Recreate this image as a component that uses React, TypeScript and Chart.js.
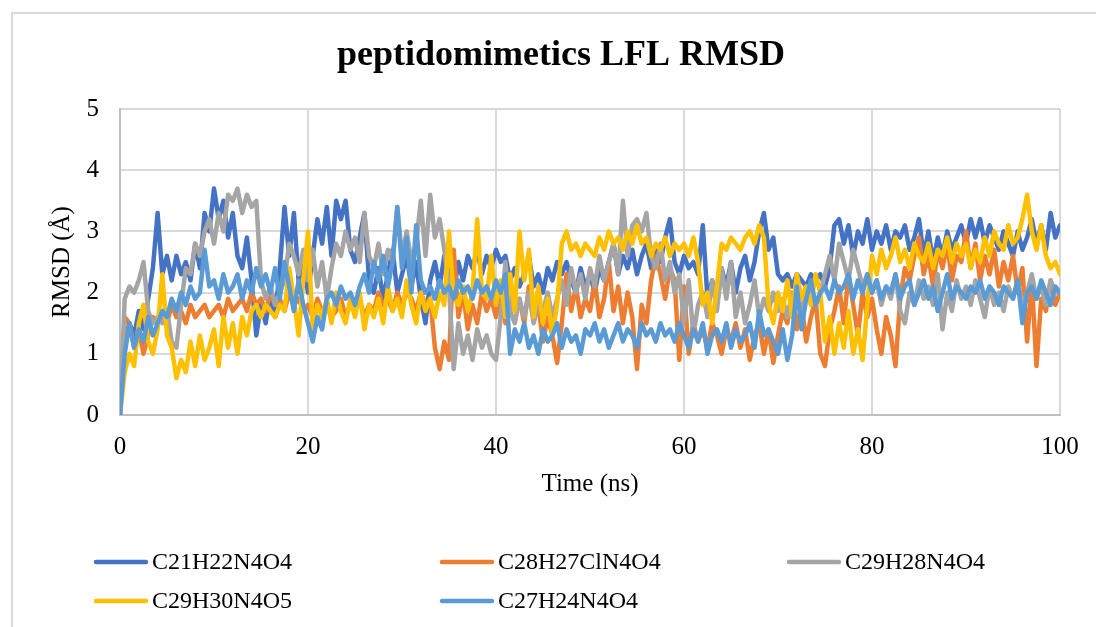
import React, { useEffect, useRef } from "react";
import { Chart, registerables } from "chart.js";

Chart.register(...registerables);

const TITLE = "peptidomimetics LFL RMSD";
const X_TITLE = "Time (ns)";
const Y_TITLE = "RMSD (Å)";
const TIME_STEP_NS = 0.5;
const X_MIN = 0;
const X_MAX = 100;
const X_STEP = 20;
const Y_MIN = 0;
const Y_MAX = 5;
const Y_STEP = 1;

const SERIES_NAMES = ["C21H22N4O4", "C28H27ClN4O4", "C29H28N4O4", "C29H30N4O5", "C27H24N4O4"];
const SERIES_COLORS = ["#4472C4", "#ED7D31", "#A5A5A5", "#FFC000", "#5B9BD5"];

const C21H22N4O4 = [
  0.0, 1.2, 1.5, 1.3, 1.7, 1.4, 1.9, 2.4, 3.3, 2.3,
  2.6, 2.2, 2.6, 2.3, 2.5, 2.2, 2.8, 2.4, 3.3, 3.0,
  3.7, 3.2, 3.5, 2.9, 3.3, 2.6, 2.4, 2.9, 2.2, 1.3,
  1.8, 1.5, 2.0, 1.6, 2.4, 3.4, 2.6, 3.3, 2.2, 2.5,
  2.0, 2.6, 3.2, 2.8, 3.4, 2.6, 3.5, 3.2, 3.5, 2.7,
  2.5, 2.9, 3.3, 2.2, 2.0, 2.4, 1.9, 2.3, 2.7, 2.0,
  2.3, 2.6, 2.1, 2.5, 1.9, 1.5, 2.2, 2.5, 2.1, 2.6,
  2.3, 2.0, 2.5, 2.2, 2.6, 2.4, 2.7, 2.3, 2.6, 2.4,
  2.7, 2.5, 2.6, 2.2, 2.4, 2.1, 2.3, 2.6, 2.1, 2.3,
  2.0, 2.4, 2.2, 2.5, 2.3, 2.5, 2.2, 2.0, 2.4, 2.1,
  2.3, 2.0, 2.4, 2.2, 2.5, 2.8, 2.3, 2.6, 2.4, 2.7,
  2.3, 2.6, 2.8, 2.4, 2.7, 2.5, 2.9, 3.2, 2.5, 2.3,
  2.6, 2.4, 2.5, 2.3, 3.1, 1.9, 2.2, 1.8, 2.4, 2.1,
  2.5, 2.0, 2.4, 2.6, 2.2, 2.5, 3.0, 3.3, 2.7, 2.9,
  2.3, 2.2, 2.3, 2.1, 2.3, 2.2, 2.1, 2.3, 2.2, 2.3,
  2.1, 2.4, 3.1, 3.2, 2.8, 3.1, 2.6, 3.0, 2.8, 3.2,
  2.7, 3.0, 2.8, 3.1, 2.7, 3.0, 2.9, 3.1, 2.7, 2.9,
  3.2, 2.6, 3.0, 2.5, 2.9, 2.6, 3.0, 2.7, 2.9, 3.1,
  2.8, 3.2, 2.9, 3.2, 2.8, 3.1, 2.9, 2.7, 3.0, 2.8,
  2.6, 3.0, 2.7, 2.9, 3.2, 2.8, 3.1, 2.7, 3.3, 2.9,
  3.1,
];

const C28H27ClN4O4 = [
  0.0, 1.6, 1.5, 1.1, 1.4, 1.0, 1.3, 1.6, 1.5, 1.7,
  1.5, 1.8, 1.6, 1.7, 1.5, 1.8, 1.6, 1.7, 1.8, 1.6,
  1.7, 1.8, 1.6, 1.9, 1.7, 1.8, 1.9, 1.7, 2.0, 1.8,
  1.9, 1.7, 2.0, 1.8, 1.9, 1.7, 2.0, 1.8, 1.9, 1.7,
  1.8, 1.6, 1.9, 1.7, 1.8, 1.6, 1.7, 1.9, 1.6, 1.8,
  1.7, 1.9, 1.6, 1.8, 1.7, 2.0, 1.8, 1.9, 1.7, 2.0,
  1.8, 2.0, 1.9, 1.7, 2.0, 1.8, 1.9, 1.1, 0.75, 1.2,
  0.9, 2.7, 1.6, 2.0, 1.4, 1.8, 1.5, 2.0, 1.7, 1.9,
  1.6, 2.0, 1.5, 2.2, 1.7, 1.9, 1.5, 2.1, 1.6, 1.8,
  1.2, 1.6, 1.3, 0.85, 1.5, 2.3, 1.7, 2.1, 1.6, 1.9,
  1.7, 2.2, 1.6, 1.9, 2.5, 1.7, 2.1, 1.5, 2.0, 1.6,
  0.75, 1.8, 1.5, 2.2, 2.6, 2.3, 1.9, 2.4, 2.2, 0.9,
  2.1, 1.0, 1.5, 1.2, 1.4, 1.1, 1.5, 1.3, 1.0, 1.4,
  1.2, 1.5, 1.1, 1.4, 0.9, 1.3, 1.5, 1.0, 1.4, 0.85,
  1.3, 1.7, 1.5, 2.0, 1.4, 1.8, 1.2, 1.6, 1.9, 1.0,
  0.8, 1.4, 1.7, 2.1, 1.5, 2.3, 1.8, 1.3, 2.0, 1.6,
  1.9, 1.4, 1.0, 1.6, 1.3, 0.8, 1.9, 2.4, 2.2, 2.6,
  2.9, 2.3, 2.6, 2.1, 2.7, 2.4, 2.8, 2.2, 2.6, 2.5,
  3.0, 2.4, 2.8, 2.2, 2.6, 2.3, 2.7, 2.1, 2.5, 2.2,
  2.6, 2.0, 2.4, 1.2, 2.2, 0.8, 1.9, 1.7, 2.2, 1.8,
  2.0,
];

const C29H28N4O4 = [
  0.0, 1.9, 2.1, 2.0, 2.2, 2.5, 1.7, 1.5, 1.6, 1.5,
  1.7, 1.2, 1.1, 1.8, 2.4, 2.3, 2.8, 2.6, 3.0, 3.2,
  2.8, 3.3, 3.0, 3.6, 3.5, 3.7, 3.3, 3.6, 3.4, 3.5,
  2.2, 1.9, 2.1, 1.8, 2.0, 2.2, 2.8, 2.6, 2.3, 2.7,
  2.2, 2.7, 2.1, 2.5, 1.9, 2.4, 2.8, 2.6, 3.0, 2.7,
  2.9, 2.5, 3.3, 2.6, 2.4, 2.8, 2.3, 2.7, 2.5, 3.4,
  2.6, 3.0, 2.5, 2.8, 3.5, 2.6, 3.6, 2.9, 3.2, 2.7,
  2.1, 0.75, 1.5, 1.0, 1.3, 0.9, 1.4, 1.1, 1.3, 1.0,
  0.9, 1.6, 2.5, 1.7, 1.5, 1.9, 1.6, 2.0, 1.5, 1.8,
  1.7, 2.0, 1.6, 1.9, 2.2, 1.8, 2.4, 2.0, 2.3, 1.9,
  2.4, 2.1, 2.6, 2.2, 2.5, 2.8, 2.3, 3.5, 2.6, 3.1,
  3.2, 3.0, 3.3, 2.6, 2.4, 2.8, 2.2, 2.5, 2.0, 2.3,
  1.5, 2.2, 1.3, 1.8, 2.0, 1.6, 2.2, 1.7, 2.4, 1.9,
  2.5, 1.6, 2.0, 1.5, 1.8, 2.2, 1.6, 1.9, 1.7, 2.0,
  1.7, 1.9, 1.6, 2.0, 1.8, 1.7, 2.1, 1.9, 1.8, 2.0,
  2.3, 2.6, 2.2, 2.8, 2.5, 2.2, 2.7, 2.4, 2.1, 2.3,
  2.0, 2.2, 1.8, 2.1, 1.9, 2.3, 1.7, 1.5, 2.0, 1.8,
  2.2, 1.9, 2.1, 1.8, 2.3, 1.4, 2.0, 1.7, 2.2, 1.9,
  2.1, 1.8, 2.2, 1.9, 1.6, 2.1, 1.8, 2.0, 1.7, 2.1,
  1.9, 2.2, 1.8, 2.0, 2.3, 1.9, 2.1, 1.8, 2.2, 2.0,
  2.0,
];

const C29H30N4O5 = [
  0.0, 0.7, 1.0, 0.8, 1.5, 1.8, 1.2, 1.0, 1.4, 2.3,
  1.3, 1.1, 0.6, 0.9, 0.7, 1.2, 0.8, 1.3, 0.9, 1.1,
  1.4, 0.8, 1.6, 1.1, 1.5, 1.0, 1.6, 1.3, 1.7, 1.8,
  1.6, 1.8, 1.7, 1.6, 1.8, 1.7, 2.4, 1.9, 1.3, 2.2,
  3.0, 1.4, 1.8, 1.6, 1.9, 1.5, 2.0, 1.7, 1.5, 1.9,
  1.6, 2.0, 1.4, 1.8, 1.6, 1.9, 1.5, 2.1, 1.7, 1.9,
  1.6, 2.2, 1.8, 1.5, 2.0, 1.7, 1.9, 1.6, 2.0, 1.8,
  3.0, 1.9, 1.8, 2.1, 1.7, 2.0, 3.2, 2.0, 1.9, 2.6,
  1.8, 2.2, 1.6, 2.3, 1.7, 3.0, 2.2, 2.7, 1.6, 2.1,
  1.5, 1.9, 1.3, 1.8, 2.8, 3.0, 2.7, 2.8, 2.6, 2.8,
  2.7, 2.6, 2.9, 2.7, 3.0, 2.8, 2.9, 2.7, 3.0, 2.8,
  3.1, 2.8, 2.9, 2.6, 2.8, 2.7, 2.9, 2.6, 2.8, 2.7,
  2.8, 2.6, 2.9, 2.5, 1.8, 2.0, 1.5, 2.1, 2.8, 2.7,
  2.9, 2.8, 2.7, 2.9, 3.0, 2.8, 3.1, 2.9, 1.8, 1.5,
  2.0, 1.7, 2.2, 1.6, 2.3, 1.9, 2.1, 1.8, 2.3, 2.0,
  1.2, 1.6, 1.0, 1.5, 1.1, 1.7, 1.0, 1.4, 0.9, 1.8,
  2.6, 2.3, 2.7, 2.4, 2.6, 2.9, 2.5, 2.7, 2.4, 2.8,
  2.6, 2.5, 2.8, 2.4, 2.7, 2.6, 2.9, 2.5, 2.8, 2.6,
  2.8, 2.4, 2.7, 2.5, 2.9, 2.6, 3.0, 2.8, 2.7, 3.1,
  2.8, 2.9, 3.2, 3.6, 3.0, 2.7, 3.1, 2.6, 2.4, 2.5,
  2.3,
];

const C27H24N4O4 = [
  0.0, 1.0, 1.5, 1.1, 1.4, 1.2, 1.6, 1.3, 1.5, 1.7,
  1.6, 1.9, 1.7, 2.0, 1.8, 2.1, 1.9, 2.0, 2.7, 2.1,
  2.2, 1.9, 2.3, 2.0, 2.1, 2.3, 1.9, 2.2, 2.0, 2.4,
  2.1, 2.3, 2.0, 2.4, 1.9, 2.5, 2.1, 1.7, 2.2, 1.8,
  1.5, 1.2, 1.6, 1.4, 1.9, 2.0, 1.8, 2.1, 1.9, 2.0,
  1.8, 2.1, 2.3, 2.0, 2.5, 2.2, 2.6, 2.1, 2.5, 3.4,
  2.4, 2.9, 2.0, 3.1, 2.2, 2.0, 2.1, 1.9, 2.2, 2.0,
  2.1, 1.9, 2.2, 2.0, 2.1, 1.9, 2.2, 2.0, 2.1, 1.9,
  2.2, 2.0, 2.3, 1.0, 1.4, 1.2, 1.5, 1.1, 1.3, 1.0,
  1.4, 1.2, 1.3, 1.5, 1.1, 1.4, 1.2, 1.3, 1.0, 1.4,
  1.3, 1.5, 1.2, 1.4, 1.1, 1.3, 1.5, 1.2, 1.4, 1.3,
  1.1, 1.5, 1.3, 1.4, 1.2, 1.5, 1.3, 1.4, 1.2, 1.5,
  1.3, 1.1, 1.4, 1.2, 1.5, 1.0, 1.3, 1.4, 1.2, 1.5,
  1.1, 1.4, 1.2, 1.3, 1.5, 1.1, 1.7, 1.3, 1.4, 1.2,
  1.0, 1.4, 0.9, 1.3, 2.1, 1.4, 1.9, 2.2, 1.8, 2.0,
  2.1, 1.9, 2.2, 2.0, 2.1, 2.3, 1.9, 2.2, 2.0, 2.3,
  2.0, 2.2, 1.9, 2.1, 2.0, 2.3, 1.9, 2.1, 2.2, 1.8,
  2.0, 2.2, 1.9, 2.1, 1.7, 2.0, 2.3, 1.9, 2.1, 2.0,
  1.9, 2.1, 2.0, 2.2, 1.9, 2.1, 2.0, 1.8, 2.1, 2.0,
  1.9, 2.2, 1.5, 2.0, 2.1, 1.9, 2.2, 2.0, 1.8, 2.1,
  2.0,
];

const SERIES_VALUES = [C21H22N4O4, C28H27ClN4O4, C29H28N4O4, C29H30N4O5, C27H24N4O4];

const FONT_FAMILY = '"Times New Roman", "Liberation Serif", serif';

const customTitleLegend = {
  id: "customTitleLegend",
  afterDraw(chart: any) {
    const ctx = chart.ctx;
    ctx.save();
    ctx.fillStyle = "#000";
    ctx.font = `bold 36px ${FONT_FAMILY}`;
    ctx.textAlign = "center";
    ctx.textBaseline = "middle";
    ctx.fillText(TITLE, 561, 56);

    const cols = [94, 440, 787];
    const rows = [562, 601];
    chart.data.datasets.forEach((ds: any, i: number) => {
      const x = cols[i % 3];
      const y = rows[Math.floor(i / 3)];
      ctx.strokeStyle = ds.borderColor;
      ctx.lineWidth = 4.5;
      ctx.lineCap = "round";
      ctx.beginPath();
      ctx.moveTo(x + 2, y);
      ctx.lineTo(x + 52, y);
      ctx.stroke();
      ctx.fillStyle = "#000";
      ctx.font = `24px ${FONT_FAMILY}`;
      ctx.textAlign = "left";
      ctx.textBaseline = "middle";
      ctx.fillText(ds.label, x + 58, y + 1);
    });
    ctx.restore();
  },
};

export default function App() {
  const canvasRef = useRef<HTMLCanvasElement | null>(null);

  useEffect(() => {
    if (!canvasRef.current) return;
    const datasets = SERIES_NAMES.map((name, i) => ({
      label: name,
      data: SERIES_VALUES[i].map((v, j) => ({ x: j * TIME_STEP_NS, y: v })),
      borderColor: SERIES_COLORS[i],
      backgroundColor: SERIES_COLORS[i],
      borderWidth: 4.5,
      pointRadius: 0,
      tension: 0,
      fill: false,
      borderJoinStyle: "round" as const,
      borderCapStyle: "round" as const,
      order: SERIES_NAMES.length - 1 - i,
    }));

    const chart = new Chart(canvasRef.current, {
      type: "line",
      data: { datasets },
      options: {
        animation: false,
        responsive: false,
        devicePixelRatio: 1,
        layout: { padding: { left: 0, right: 36, top: 109, bottom: 122 } },
        plugins: {
          legend: { display: false },
          title: { display: false },
          tooltip: { enabled: false },
        },
        scales: {
          x: {
            type: "linear",
            min: X_MIN,
            max: X_MAX,
            ticks: {
              stepSize: X_STEP,
              color: "#000",
              padding: 17,
              font: { family: FONT_FAMILY, size: 25 },
              maxRotation: 0,
            },
            grid: { color: "#d9d9d9", lineWidth: 2, drawTicks: false },
            border: { color: "#bfbfbf", width: 2 },
            title: {
              display: true,
              text: X_TITLE,
              color: "#000",
              font: { family: FONT_FAMILY, size: 25 },
              padding: { top: 0, bottom: 6 },
            },
            afterFit(scale: any) {
              scale.height = 90;
            },
          },
          y: {
            type: "linear",
            min: Y_MIN,
            max: Y_MAX,
            ticks: {
              stepSize: Y_STEP,
              color: "#000",
              padding: 21,
              font: { family: FONT_FAMILY, size: 25 },
            },
            grid: { color: "#d9d9d9", lineWidth: 2, drawTicks: false },
            border: { color: "#bfbfbf", width: 2 },
            title: {
              display: true,
              text: Y_TITLE,
              color: "#000",
              font: { family: FONT_FAMILY, size: 25 },
              padding: { top: 47, bottom: 0 },
            },
            afterFit(scale: any) {
              scale.width = 120;
            },
          },
        },
      },
      plugins: [customTitleLegend],
    });
    return () => chart.destroy();
  }, []);

  return (
    <div style={{ position: "fixed", left: 0, top: 0, width: 1096, height: 627, overflow: "hidden", background: "#fff" }}>
      <div
        style={{
          position: "absolute",
          left: 11,
          top: 12,
          width: 1200,
          height: 700,
          borderLeft: "2px solid #d9d9d9",
          borderTop: "2px solid #d9d9d9",
        }}
      />
      <canvas ref={canvasRef} width={1096} height={627} style={{ position: "absolute", left: 0, top: 0 }} />
    </div>
  );
}
